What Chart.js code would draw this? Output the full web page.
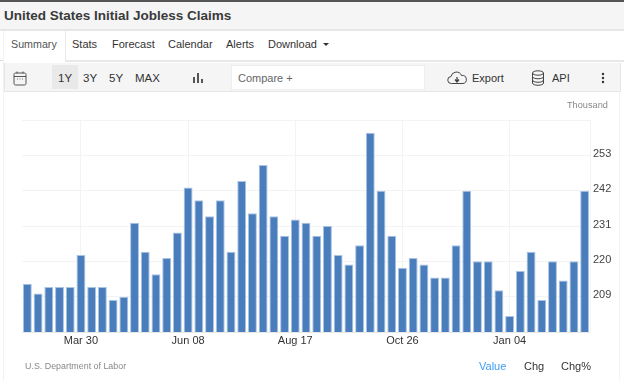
<!DOCTYPE html>
<html><head><meta charset="utf-8">
<style>
html,body{margin:0;padding:0;background:#fff;width:624px;height:381px;overflow:hidden;font-family:"Liberation Sans",Arial,sans-serif;color:#333}
.a{position:absolute;white-space:nowrap}
canvas{position:absolute;left:0;top:0}
</style>
<script src="https://cdn.jsdelivr.net/npm/chart.js@4"></script>
</head><body>
<div class="a" style="left:0;top:0;width:624px;height:2px;background:#555"></div>
<div class="a" style="left:0;top:2px;width:624px;height:27px;background:#f5f5f5;border-bottom:2px solid #e6e6e6"></div>
<div class="a" style="left:4px;top:8px;font-size:13.5px;font-weight:bold;color:#3a3a3a">United States Initial Jobless Claims</div>
<div class="a" style="left:0;top:60px;width:4px;height:1px;background:#ddd"></div>
<div class="a" style="left:3px;top:31px;width:1px;height:350px;background:#f2f2f2"></div>
<div class="a" style="left:619px;top:92px;width:1px;height:289px;background:#f4f4f4"></div>
<div class="a" style="left:65px;top:31px;width:559px;height:29px;border-bottom:2px solid #e8e8e8;border-left:1px solid #e8e8e8"></div>
<div class="a" style="left:11px;top:38px;font-size:10.7px;color:#555">Summary</div>
<div class="a" style="left:72px;top:38px;font-size:11px">Stats</div>
<div class="a" style="left:112px;top:38px;font-size:11px">Forecast</div>
<div class="a" style="left:168px;top:38px;font-size:11px">Calendar</div>
<div class="a" style="left:226px;top:38px;font-size:11px">Alerts</div>
<div class="a" style="left:268px;top:38px;font-size:11px">Download</div>
<div class="a" style="left:323px;top:43px;width:0;height:0;border-left:3px solid transparent;border-right:3px solid transparent;border-top:3px solid #333"></div>
<div class="a" style="left:4px;top:63px;width:615px;height:28px;background:#f5f5f5;border:1px solid #e6e6e6;border-width:0 1px 1px 1px"></div>
<div class="a" style="left:52px;top:65px;width:26px;height:24px;background:#e9e9e9"></div>
<svg class="a" style="left:13px;top:71px" width="14" height="15" viewBox="0 0 14 15" fill="none" stroke="#555"><rect x="1" y="2" width="12" height="12" rx="1.5"/><path d="M1 5.5h12M4 0.5v2M10 0.5v2"/><path d="M4 8h1M6.5 8h1M9 8h1" stroke="#777"/></svg>
<div class="a" style="left:58px;top:72px;font-size:11.5px">1Y</div>
<div class="a" style="left:83px;top:72px;font-size:11.5px">3Y</div>
<div class="a" style="left:109px;top:72px;font-size:11.5px">5Y</div>
<div class="a" style="left:135px;top:72px;font-size:11.5px">MAX</div>
<svg class="a" style="left:192px;top:72px" width="12" height="12" fill="#555"><rect x="1" y="5" width="2" height="6"/><rect x="5" y="1" width="2" height="10"/><rect x="9" y="7" width="2" height="4"/></svg>
<div class="a" style="left:231px;top:65px;width:192px;height:23px;background:#fff;border:1px solid #eee"></div>
<div class="a" style="left:238px;top:72px;font-size:11px;color:#666">Compare +</div>
<svg class="a" style="left:447px;top:71px" width="20" height="15" fill="none" stroke="#444"><path d="M4.5 12.5a3.5 3.5 0 0 1 -0.5 -7a5.5 5.5 0 0 1 10.500 -1a4 4 0 0 1 1.500 8z"/><path d="M10 6v5M8 8.500l2 2.500l2 -2.500" stroke-width="1.300"/></svg>
<div class="a" style="left:472px;top:72px;font-size:11px">Export</div>
<svg class="a" style="left:531px;top:70px" width="14" height="16" fill="none" stroke="#444"><ellipse cx="7" cy="3" rx="5.500" ry="2.200"/><path d="M1.500 3v10c0 3 11 3 11 0V3M1.500 6.500c0 3 11 3 11 0M1.500 10c0 3 11 3 11 0"/></svg>
<div class="a" style="left:552px;top:72px;font-size:11px">API</div>
<svg class="a" style="left:600px;top:72px" width="6" height="12" fill="#333"><circle cx="3" cy="2" r="1.200"/><circle cx="3" cy="6" r="1.200"/><circle cx="3" cy="10" r="1.200"/></svg>
<canvas id="c" width="624" height="381"></canvas>
<div class="a" style="left:567px;top:100px;font-size:9.2px;color:#888">Thousand</div>
<div class="a" style="left:25px;top:361px;font-size:8.9px;color:#888">U.S. Department of Labor</div>
<div class="a" style="left:479px;top:360px;font-size:11px;color:#3d9df5">Value</div>
<div class="a" style="left:524px;top:360px;font-size:11px">Chg</div>
<div class="a" style="left:561px;top:360px;font-size:11px">Chg%</div>
<script>
const categories=["Feb 23","Mar 02","Mar 09","Mar 16","Mar 23","Mar 30","Apr 06","Apr 13","Apr 20","Apr 27","May 04","May 11","May 18","May 25","Jun 01","Jun 08","Jun 15","Jun 22","Jun 29","Jul 06","Jul 13","Jul 20","Jul 27","Aug 03","Aug 10","Aug 17","Aug 24","Aug 31","Sep 07","Sep 14","Sep 21","Sep 28","Oct 05","Oct 12","Oct 19","Oct 26","Nov 02","Nov 09","Nov 16","Nov 23","Nov 30","Dec 07","Dec 14","Dec 21","Dec 28","Jan 04","Jan 11","Jan 18","Jan 25","Feb 01","Feb 08","Feb 15","Feb 22"];
const values=[213,210,212,212,212,222,212,212,208,209,232,223,216,221,229,243,239,234,239,223,245,235,250,234,228,233,232,228,231,222,219,225,260,242,228,218,221,219,215,215,225,242,220,220,211,203,217,223,208,220,214,220,242];
const xTickLabels=["Mar 30","Jun 08","Aug 17","Oct 26","Jan 04"];
const yTickLabels=[209,220,231,242,253];
new Chart(document.getElementById('c'),{
 type:'bar',
 data:{labels:categories,datasets:[{data:values,backgroundColor:'#4a7dbb',borderColor:'#a9c4e4',borderWidth:{top:1,left:1,right:1,bottom:0},borderSkipped:false,categoryPercentage:1,barPercentage:0.83}]},
 options:{responsive:false,animation:false,
  layout:{padding:0},
  plugins:{legend:{display:false},tooltip:{enabled:false}},
  scales:{
   x:{offset:true,position:'bottom',
      afterFit(s){s.height=49},
      border:{display:true,color:'#e9e9e9'},
      grid:{display:true,offset:false,color:c=>xTickLabels.includes(categories[c.index])?'#f3f3f3':'transparent',drawTicks:false},
      ticks:{autoSkip:false,maxRotation:0,padding:2,color:'#333',font:{family:'"Liberation Sans",Arial,sans-serif',size:11},
        callback(v,i){const l=categories[i];return xTickLabels.includes(l)?l:''}}},
   y:{position:'right',min:198,max:264,
      afterFit(s){s.width=34},
      border:{display:true,color:'#f3f3f3'},
      grid:{color:'#f3f3f3',drawTicks:false},
      afterBuildTicks(s){s.ticks=[198,209,220,231,242,253,264].map(v=>({value:v}))},
      ticks:{padding:3,labelOffset:-1.5,color:'#444',font:{family:'"Liberation Sans",Arial,sans-serif',size:11},
        callback(v){return yTickLabels.includes(v)?String(v):''}}}
  }
 },
 plugins:[{id:'box',beforeLayout(ch){ch.options.layout.padding={left:22,top:120,right:0,bottom:0}}}]
});
</script>
</body></html>
